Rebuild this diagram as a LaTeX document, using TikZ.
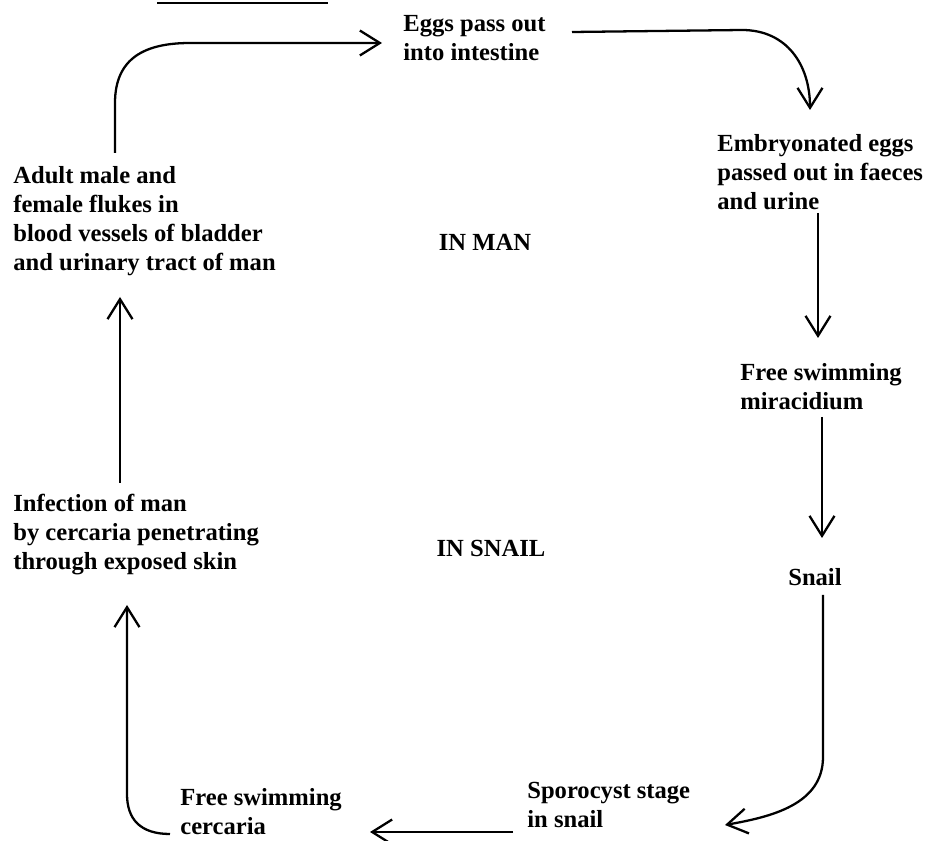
\documentclass[tikz,border=0pt]{standalone}
\usepackage{fontspec}
\setmainfont{Liberation Serif}
\usetikzlibrary{arrows.meta,calc}

\begin{document}
\begin{tikzpicture}[x=0.02cm, y=-0.02cm, font=\fontsize{14}{16.5}\selectfont\bfseries,
  stage/.style={align=left, anchor=north west, inner sep=0pt},
  region/.style={inner sep=0pt},
  flow/.style={line width=1.3pt, -{Straight Barb[length=4mm,width=5mm]}}]
\useasboundingbox (0,0) rectangle (931,841);
\node[stage] (eggs) at (403,15) {Eggs pass out\\into intestine};
\node[stage] (embryo) at (717,134) {Embryonated eggs\\passed out in faeces\\and urine};
\node[stage] (mira) at (740,363) {Free swimming\\miracidium};
\node[region] (snail) at (815,577) {Snail};
\node[stage] (sporo) at (527,782) {Sporocyst stage\\in snail};
\node[stage] (cerc) at (180,788) {Free swimming\\cercaria};
\node[stage] (infect) at (13,494) {Infection of man\\by cercaria penetrating\\through exposed skin};
\node[stage] (adult) at (13,166) {Adult male and\\female flukes in\\blood vessels of bladder\\and urinary tract of man};
\node[region] (inman) at (485,242) {IN MAN};
\node[region] (insnail) at (491,548) {IN SNAIL};
\coordinate (rulea) at (157,3);
\coordinate (ruleb) at (328,3);
\draw[line width=1.6pt] (rulea) -- (ruleb);
\draw[flow] ($(adult.north west)+(102,-13)$) -- ($(adult.north west)+(102,-63)$)
  .. controls ($(adult.north west)+(102,-108)$) and ($(eggs.north west)+(-258,28)$) .. ($(eggs.north west)+(-213,28)$)
  -- ($(eggs.north west)+(-21,28)$);
\draw[flow] ($(eggs.north west)+(169,17)$) -- ($(eggs.north west)+(339,15)$)
  .. controls ($(eggs.north west)+(384,15)$) and ($(embryo.north west)+(93,-69)$) .. ($(embryo.north west)+(93,-24)$);
\draw[flow] ($(embryo.north west)+(101,79)$) -- ($(mira.north west)+(78,-25)$);
\draw[flow] ($(mira.north west)+(82,54)$) -- ($(snail.center)+(7,-39)$);
\draw[flow] ($(snail.center)+(8,18)$) -- ($(snail.center)+(8,180)$)
  .. controls ($(snail.center)+(8,228)$) and ($(sporo.north west)+(243,35)$) .. ($(sporo.north west)+(198,43)$);
\draw[flow] ($(sporo.north west)+(-14,50)$) -- ($(cerc.north west)+(190,44)$);
\draw[flow] ($(cerc.north west)+(-10,46)$)
  .. controls ($(cerc.north west)+(-40,46)$) and ($(infect.north west)+(114,325)$) .. ($(infect.north west)+(114,300)$)
  -- ($(infect.north west)+(114,111)$);
\draw[flow] ($(infect.north west)+(107,-11)$) -- ($(adult.north west)+(107,131)$);
\end{tikzpicture}
\end{document}
